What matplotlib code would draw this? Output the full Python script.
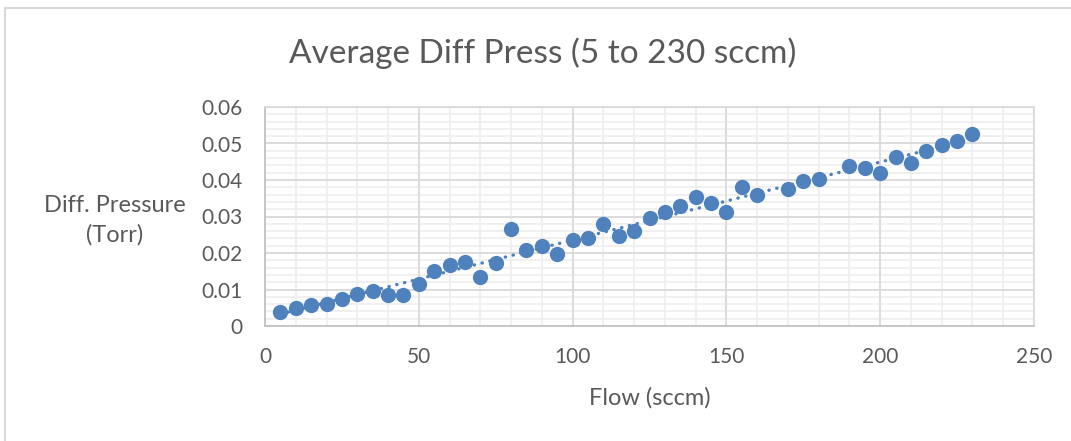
import matplotlib
matplotlib.use('Agg')
import matplotlib.pyplot as plt
import numpy as np
from matplotlib.patches import Rectangle

matplotlib.rcParams['font.family'] = ['Lato', 'DejaVu Sans']

# flow (sccm) and averaged differential pressure (Torr)
flow = [5, 10, 15, 20, 25, 30, 35, 40, 45, 50, 55, 60, 65, 70, 75, 80, 85, 90, 95, 100,
        105, 110, 115, 120, 125, 130, 135, 140, 145, 150, 155, 160, 170, 175, 180,
        190, 195, 200, 205, 210, 215, 220, 225, 230]
diff_press = [0.0037, 0.0049, 0.0058, 0.0060, 0.0073, 0.0089, 0.0096, 0.0084, 0.0085, 0.0114,
              0.0151, 0.0167, 0.0176, 0.0133, 0.0173, 0.0267, 0.0207, 0.0220, 0.0198, 0.0235,
              0.0240, 0.0279, 0.0247, 0.0261, 0.0295, 0.0311, 0.0330, 0.0353, 0.0338, 0.0312,
              0.0381, 0.0360, 0.0375, 0.0398, 0.0403, 0.0437, 0.0432, 0.0420, 0.0464, 0.0447,
              0.0480, 0.0495, 0.0506, 0.0527]

xticks = [0, 50, 100, 150, 200, 250]
yticks = [0, 0.01, 0.02, 0.03, 0.04, 0.05, 0.06]
yticklabels = ['0', '0.01', '0.02', '0.03', '0.04', '0.05', '0.06']
title = 'Average Diff Press (5 to 230 sccm)'
xlabel = 'Flow (sccm)'
ylabel = 'Diff. Pressure\n(Torr)'

blue = '#4f81bd'
txt = '#595959'

fig = plt.figure(figsize=(10.71, 4.41), dpi=100)
# chart area border
fig.patches.append(Rectangle((5/1071, -0.1), 1.2, 1 - 8/441 + 0.1, transform=fig.transFigure,
                             fill=False, edgecolor='#d9d9d9', linewidth=1.5))

ax = fig.add_axes([265/1071, 1 - 326/441, 769/1071, 219/441])
ax.set_xlim(0, 250)
ax.set_ylim(0, 0.06)

# excel style grid: minor first, major on top
minor_x = np.arange(0, 251, 10)
minor_y = np.linspace(0, 0.06, 31)
ax.vlines(minor_x, 0, 0.06, color='#eeeeee', linewidth=1.2, zorder=0)
ax.hlines(minor_y, 0, 250, color='#eeeeee', linewidth=1.2, zorder=0)
ax.vlines(xticks, 0, 0.06, color='#d9d9d9', linewidth=1.2, zorder=1)
ax.hlines(yticks, 0, 250, color='#d9d9d9', linewidth=1.2, zorder=1)

x = np.array(flow)
y = np.array(diff_press)
coef = np.polyfit(x, y, 1)
xx = np.array([x.min(), x.max()])
ax.plot(xx, np.polyval(coef, xx), color=blue, linewidth=2.4,
        linestyle=(0, (0.1, 2.3)), dash_capstyle='round', zorder=3)
ax.plot(x, y, 'o', color=blue, markersize=11, markeredgewidth=0, zorder=4)

ax.set_xticks(xticks)
ax.set_yticks(yticks)
ax.set_yticklabels(yticklabels)
ax.tick_params(which='both', length=0, labelsize=15, labelcolor=txt)
ax.tick_params(axis='x', pad=15)
ax.tick_params(axis='y', pad=16)
for sp in ax.spines.values():
    sp.set_color('#d9d9d9')
    sp.set_linewidth(1.2)
ax.spines['bottom'].set_color('#bfbfbf')
ax.spines['left'].set_color('#bfbfbf')

fig.text(543/1071, 1 - 53/441, title, ha='center', va='center', fontsize=24, color=txt)
fig.text(650/1071, 1 - 398/441, xlabel, ha='center', va='center', fontsize=17, color=txt)
fig.text(115/1071, 1 - 220/441, ylabel, ha='center', va='center', fontsize=17, color=txt,
         multialignment='center', linespacing=1.45)

plt.savefig('out.png', dpi=100)
